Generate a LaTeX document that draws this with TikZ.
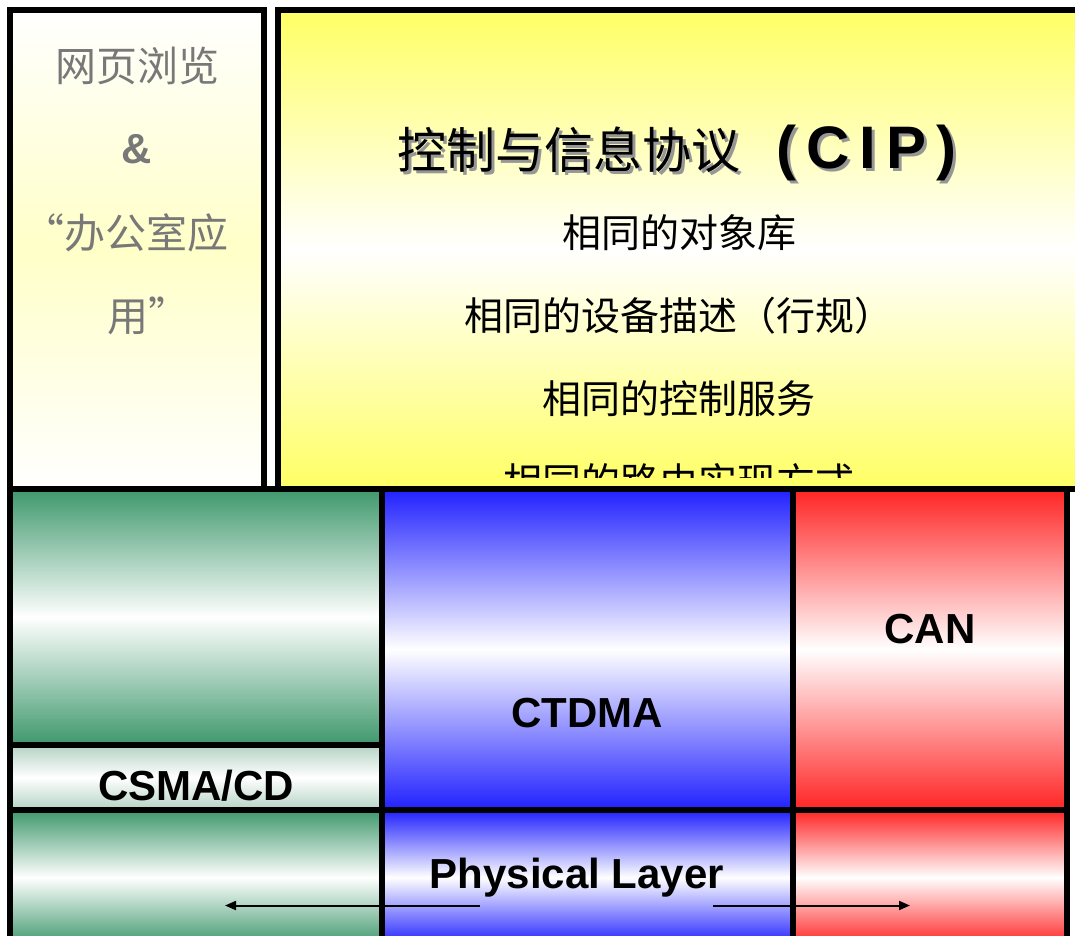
\documentclass[tikz,border=0pt]{standalone}
\usepackage{fontspec}
\setmainfont{Liberation Sans}
\newfontfamily\cjk{Noto Sans CJK SC}
\usetikzlibrary{arrows.meta}
\definecolor{yel}{RGB}{255,255,100}
\definecolor{paleyel}{RGB}{255,255,200}
\definecolor{grn}{RGB}{62,152,108}
\definecolor{paleg}{RGB}{180,210,195}
\definecolor{blu}{RGB}{32,32,255}
\definecolor{rd}{RGB}{255,36,36}
\definecolor{webgray}{RGB}{120,120,120}
\definecolor{shadowgray}{RGB}{150,150,150}
\newcommand\cipTitle{{\cjk\fontsize{49}{49}\selectfont 控制与信息协议}\hspace{36pt}{\fontsize{60}{60}\selectfont\bfseries (\hspace{10pt}C\hspace{10pt}I\hspace{10pt}P\hspace{10pt})}}
\begin{document}
\begin{tikzpicture}[x=1pt,y=-1pt,
  box/.style={draw=black, line width=6pt, inner sep=0pt, outer sep=0pt, anchor=north west},
  lbl/.style={font=\fontsize{42}{42}\selectfont\bfseries, anchor=base, inner sep=0pt},
  cjkline/.style={font=\cjk\fontsize{39}{39}\selectfont, anchor=base, inner sep=0pt},
  webtxt/.style={font=\cjk\fontsize{41}{41}\selectfont, text=webgray, anchor=base, inner sep=0pt},
  arr/.style={line width=2pt, -{Triangle[length=11pt,width=9pt]}}]
\useasboundingbox (0,0) rectangle (1075,935);
\clip (0,0) rectangle (1075,935);
% boxes
\node[box, minimum width=254.5pt, minimum height=479.5pt, top color=white, bottom color=white, middle color=paleyel] (web) at (9.5,9.5) {};
\node[box, minimum width=812pt, minimum height=479.5pt, top color=yel, bottom color=yel, middle color=white] (cip) at (278,9.5) {};
\node[box, minimum width=372pt, minimum height=256pt, top color=grn, bottom color=grn, middle color=white] (grn1) at (9.5,489) {};
\node[box, minimum width=372pt, minimum height=65pt, top color=paleg, bottom color=paleg, middle color=white] (csma) at (9.5,745) {};
\node[box, minimum width=372pt, minimum height=135pt, top color=grn, bottom color=grn, middle color=white] (grn2) at (9.5,810) {};
\node[box, minimum width=411.5pt, minimum height=321pt, top color=blu, bottom color=blu, middle color=white] (ctdma) at (381.5,489) {};
\node[box, minimum width=274pt, minimum height=321pt, top color=rd, bottom color=rd, middle color=white] (can) at (793,489) {};
\node[box, minimum width=411.5pt, minimum height=135pt, top color=blu, bottom color=blu, middle color=white] (phyb) at (381.5,810) {};
\node[box, minimum width=274pt, minimum height=135pt, top color=rd, bottom color=rd, middle color=white] (phyr) at (793,810) {};
% left box text
\node[webtxt] (w1) at (137,81) {网页浏览};
\node[anchor=base, inner sep=0pt, text=webgray, font=\fontsize{42}{42}\selectfont\bfseries] (w2) at (137,163) {\&};
\node[webtxt] (w3) at (126,248) {“办公室应};
\node[webtxt] (w4) at (148,331) {用”};
% CIP title with shadow
\node[anchor=base, inner sep=0pt, text=shadowgray] (tsh) at (680,171) {\cipTitle};
\node[anchor=base, inner sep=0pt, text=black] (title) at (677,168) {\cipTitle};
\node[cjkline] (c1) at (679,247) {相同的对象库};
\node[cjkline] (c2) at (679,330) {相同的设备描述（行规）};
\node[cjkline] (c3) at (679,413) {相同的控制服务};
\begin{scope}
\clip (281,12) rectangle (1075,477);
\node[cjkline] (c4) at (679,496) {相同的路由实现方式};
\end{scope}
% bottom labels
\node[lbl] (lcsma) at (196,800) {CSMA/CD};
\node[lbl] (lctdma) at (587,727) {CTDMA};
\node[lbl] (lcan) at (930,643) {CAN};
\node[lbl] (lphy) at (577,888) {Physical Layer};
% arrows
\coordinate (la1) at (480,905.5);
\coordinate (la2) at (225,905.5);
\coordinate (ra1) at (713,905.5);
\coordinate (ra2) at (910,905.5);
\draw[arr] (la1) -- (la2);
\draw[arr] (ra1) -- (ra2);
\end{tikzpicture}
\end{document}
